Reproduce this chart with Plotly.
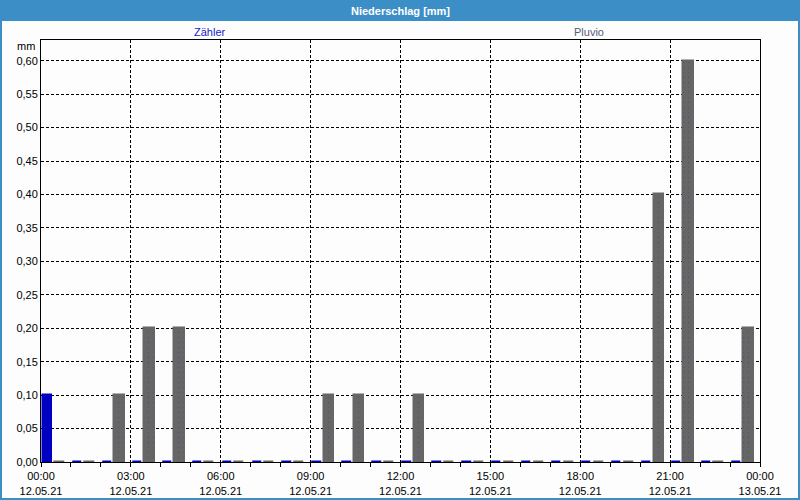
import plotly.graph_objects as go

hours = list(range(24))
zaehler = [0.10] + [0.0] * 23
pluvio = [0.0, 0.0, 0.10, 0.20, 0.20, 0.0, 0.0, 0.0, 0.0, 0.10, 0.10, 0.0,
          0.10, 0.0, 0.0, 0.0, 0.0, 0.0, 0.0, 0.0, 0.40, 0.60, 0.0, 0.20]
x_tickvals = [0, 3, 6, 9, 12, 15, 18, 21, 24]
x_ticktext = ["00:00<br>12.05.21", "03:00<br>12.05.21", "06:00<br>12.05.21",
              "09:00<br>12.05.21", "12:00<br>12.05.21", "15:00<br>12.05.21",
              "18:00<br>12.05.21", "21:00<br>12.05.21", "00:00<br>13.05.21"]
y_tickvals = [i * 0.05 for i in range(13)]

BLUE = "#0000c0"
GRAY = "#666666"
FONT = "Liberation Sans"

fig = go.Figure()
fig.add_trace(go.Bar(
    x=hours, y=zaehler, name="Zähler", offset=0.06, width=0.31,
    marker=dict(color=BLUE, line=dict(color=BLUE, width=1.5)),
))
fig.add_trace(go.Bar(
    x=hours, y=pluvio, name="Pluvio", offset=0.445, width=0.345,
    marker=dict(color=GRAY, line=dict(color=GRAY, width=1.5),
                pattern=dict(shape=".", bgcolor=GRAY, fgcolor="#3a3a90",
                             size=5, solidity=0.06)),
))

W, H = 800, 500
ml, mr, mt, mb = 41, 40, 40, 38
pw, ph = W - ml - mr, H - mt - mb


def px(xp):
    return (xp - ml) / pw


def py(yp):
    return (H - mb - yp) / ph


fig.update_layout(
    width=W, height=H,
    margin=dict(l=ml, r=mr, t=mt, b=mb, pad=0, autoexpand=False),
    paper_bgcolor="#fcfdfc", plot_bgcolor="#fcfdfc",
    showlegend=False,
    separators=",.",
    font=dict(family=FONT, size=11, color="black"),
    xaxis=dict(range=[0, 24], tickvals=x_tickvals, ticktext=x_ticktext,
               automargin=False,
               showline=True, linecolor="black", linewidth=1, mirror=True,
               showgrid=True, gridcolor="black", gridwidth=1, griddash="3px,2px",
               ticks="outside", ticklen=4, tickcolor="black",
               minor=dict(dtick=1, ticks="outside", ticklen=4, tickcolor="black", showgrid=False),
               zeroline=False, tickfont=dict(size=11, family=FONT)),
    yaxis=dict(range=[0, 0.631], tickvals=y_tickvals, tickformat=".2f",
               automargin=False,
               showline=True, linecolor="black", linewidth=1, mirror=True,
               showgrid=True, gridcolor="black", gridwidth=1, griddash="3px,2px",
               ticks="", zeroline=False, tickfont=dict(size=11, family=FONT)),
    bargap=0,
)

fig.add_shape(type="rect", xref="paper", yref="paper",
              x0=px(0), x1=px(W), y0=py(21), y1=py(0),
              fillcolor="#3c8fc6", line=dict(width=0), layer="above")
fig.add_shape(type="rect", xref="paper", yref="paper",
              x0=px(1), x1=px(W - 1), y0=py(H - 1), y1=py(1),
              fillcolor="rgba(0,0,0,0)", line=dict(color="#3c8fc6", width=2), layer="above")

fig.add_annotation(x=px(400), y=py(10.5), xref="paper", yref="paper",
                   text="<b>Niederschlag [mm]</b>", showarrow=False,
                   font=dict(color="white", size=11, family=FONT),
                   xanchor="center", yanchor="middle")
fig.add_annotation(x=px(210), y=py(32), xref="paper", yref="paper",
                   text="Zähler", showarrow=False,
                   font=dict(color="#1a1ac8", size=11, family=FONT),
                   xanchor="center", yanchor="middle")
fig.add_annotation(x=px(589), y=py(32), xref="paper", yref="paper",
                   text="Pluvio", showarrow=False,
                   font=dict(color="#5a5a78", size=11, family=FONT),
                   xanchor="center", yanchor="middle")
fig.add_annotation(x=px(37), y=py(46), xref="paper", yref="paper",
                   text="mm", showarrow=False,
                   font=dict(color="black", size=11, family=FONT),
                   xanchor="right", yanchor="middle")

fig.write_html("out.html")
